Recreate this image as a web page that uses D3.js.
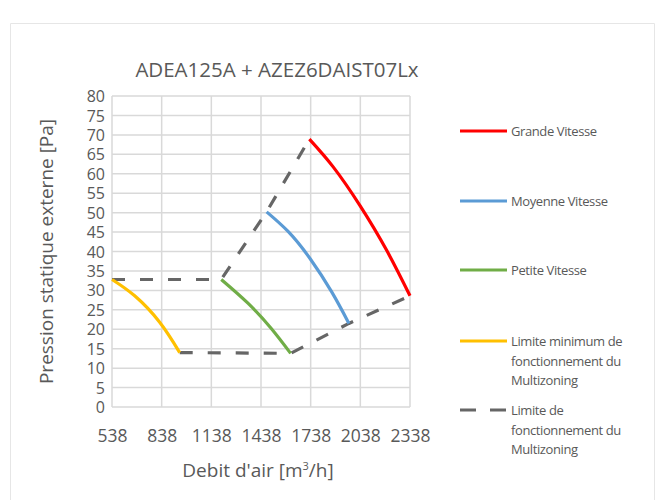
<!DOCTYPE html>
<html>
<head>
<meta charset="utf-8">
<script src="https://cdn.jsdelivr.net/npm/d3@7"></script>
<style>
  body { margin: 0; background: #fff; }
  svg { font-family: "Open Sans", sans-serif; }
</style>
</head>
<body>
<svg id="chart" width="664" height="500"></svg>
<script>
// debit d'air [m3/h] / pression [Pa]
const grandeX = [1730, 1875, 2036, 2197, 2338];
const grandeY = [68.9, 61.7, 51.8, 40.3, 28.6];
const moyenneX = [1472, 1603, 1734, 1865, 1969];
const moyenneY = [50.2, 45.1, 38.2, 29.6, 21.5];
const petiteX = [1198, 1359, 1500, 1617];
const petiteY = [32.8, 26.7, 20.2, 13.8];
const minimumX = [538, 675, 826, 947];
const minimumY = [32.8, 28.6, 21.8, 14.0];
const limiteHautX = [538, 1198, 1472, 1730];
const limiteHautY = [32.8, 32.8, 50.2, 68.9];
const limiteBasX = [947, 1617, 1969, 2338];
const limiteBasY = [14.0, 13.8, 21.5, 28.6];

const xTicks = [538, 838, 1138, 1438, 1738, 2038, 2338];
const yTicks = d3.range(0, 81, 5);

const svg = d3.select('#chart');
const textColor = '#595959';
const gridColor = '#d9d9d9';

const x = d3.scaleLinear().domain([538, 2338]).range([112, 410]);
const y = d3.scaleLinear().domain([0, 80]).range([407, 96]);

// cadre du graphique
svg.append('path')
  .attr('d', 'M10.5,500 V23.5 H654.5 V500')
  .style('fill', 'none')
  .style('stroke', '#e6e6e6')
  .style('stroke-width', 1);

svg.append('text')
  .attr('x', 277)
  .attr('y', 77)
  .attr('text-anchor', 'middle')
  .style('font-size', '20.5px')
  .style('fill', textColor)
  .text('ADEA125A + AZEZ6DAIST07Lx');

// grille
const grid = svg.append('g');
grid.selectAll('line.h')
  .data(yTicks)
  .enter()
  .append('line')
  .attr('x1', x(538)).attr('x2', x(2338))
  .attr('y1', d => y(d)).attr('y2', d => y(d))
  .style('stroke', gridColor)
  .style('stroke-width', 1.5);
grid.selectAll('line.v')
  .data(xTicks)
  .enter()
  .append('line')
  .attr('x1', d => x(d)).attr('x2', d => x(d))
  .attr('y1', y(0)).attr('y2', y(80))
  .style('stroke', gridColor)
  .style('stroke-width', 1.5);

// axes
const xAxis = svg.append('g')
  .attr('transform', `translate(0,${y(0)})`)
  .call(d3.axisBottom(x).tickValues(xTicks).tickSize(0).tickPadding(19).tickFormat(d3.format('d')));
const yAxis = svg.append('g')
  .attr('transform', `translate(${x(538)},0)`)
  .call(d3.axisLeft(y).tickValues(yTicks).tickSize(0).tickPadding(7));
[xAxis, yAxis].forEach(a => {
  a.select('.domain').remove();
  a.selectAll('text')
    .style('font-family', '"Open Sans", sans-serif')
    .style('fill', textColor);
});
xAxis.selectAll('text').style('font-size', '17.5px').attr('dy', '0.9em');
yAxis.selectAll('text').style('font-size', '16px').attr('dy', '0.35em');

const xTitle = svg.append('text')
  .attr('x', 258)
  .attr('y', 477)
  .attr('text-anchor', 'middle')
  .style('font-size', '19px')
  .style('fill', textColor);
xTitle.append('tspan').text("Debit d'air [m");
xTitle.append('tspan').attr('dy', -7).style('font-size', '11px').text('3');
xTitle.append('tspan').attr('dy', 7).text('/h]');

svg.append('text')
  .attr('transform', `translate(53,${(y(0) + y(80)) / 2}) rotate(-90)`)
  .attr('text-anchor', 'middle')
  .style('font-size', '19px')
  .style('fill', textColor)
  .text('Pression statique externe [Pa]');

// courbes
const zip = (xs, ys) => xs.map((v, i) => [v, ys[i]]);
const curve = d3.line()
  .x(d => x(d[0]))
  .y(d => y(d[1]))
  .curve(d3.curveNatural);
const straight = d3.line()
  .x(d => x(d[0]))
  .y(d => y(d[1]));

const dashStyle = '13,15';
const series = [
  { pts: zip(limiteHautX, limiteHautY), color: '#666666', dash: dashStyle, gen: straight },
  { pts: zip(limiteBasX, limiteBasY), color: '#666666', dash: dashStyle, gen: straight },
  { pts: zip(minimumX, minimumY), color: '#ffc000', dash: null, gen: curve },
  { pts: zip(petiteX, petiteY), color: '#70ad47', dash: null, gen: curve },
  { pts: zip(moyenneX, moyenneY), color: '#5b9bd5', dash: null, gen: curve },
  { pts: zip(grandeX, grandeY), color: '#ff0000', dash: null, gen: curve }
];

svg.append('g')
  .selectAll('path')
  .data(series)
  .enter()
  .append('path')
  .attr('d', d => d.gen(d.pts))
  .style('fill', 'none')
  .style('stroke', d => d.color)
  .style('stroke-width', 3.2)
  .style('stroke-dasharray', d => d.dash)
  .style('stroke-linejoin', 'round');

// legende
const legend = [
  { lines: ['Grande Vitesse'], color: '#ff0000', dash: null, y: 131 },
  { lines: ['Moyenne Vitesse'], color: '#5b9bd5', dash: null, y: 201 },
  { lines: ['Petite Vitesse'], color: '#70ad47', dash: null, y: 270 },
  { lines: ['Limite minimum de', 'fonctionnement du', 'Multizoning'], color: '#ffc000', dash: null, y: 341 },
  { lines: ['Limite de', 'fonctionnement du', 'Multizoning'], color: '#666666', dash: '16,14', y: 410 }
];

const item = svg.append('g')
  .selectAll('g')
  .data(legend)
  .enter()
  .append('g')
  .attr('transform', d => `translate(0,${d.y})`);
item.append('line')
  .attr('x1', 460).attr('x2', 507)
  .style('stroke', d => d.color)
  .style('stroke-width', 3.2)
  .style('stroke-dasharray', d => d.dash);
item.append('text')
  .attr('x', 511)
  .attr('y', 5)
  .style('font-size', '13px')
  .style('letter-spacing', '-0.4px')
  .style('fill', textColor)
  .selectAll('tspan')
  .data(d => d.lines)
  .enter()
  .append('tspan')
  .attr('x', 511)
  .attr('dy', (d, i) => i ? 19.5 : 0)
  .text(d => d);
</script>
</body>
</html>
